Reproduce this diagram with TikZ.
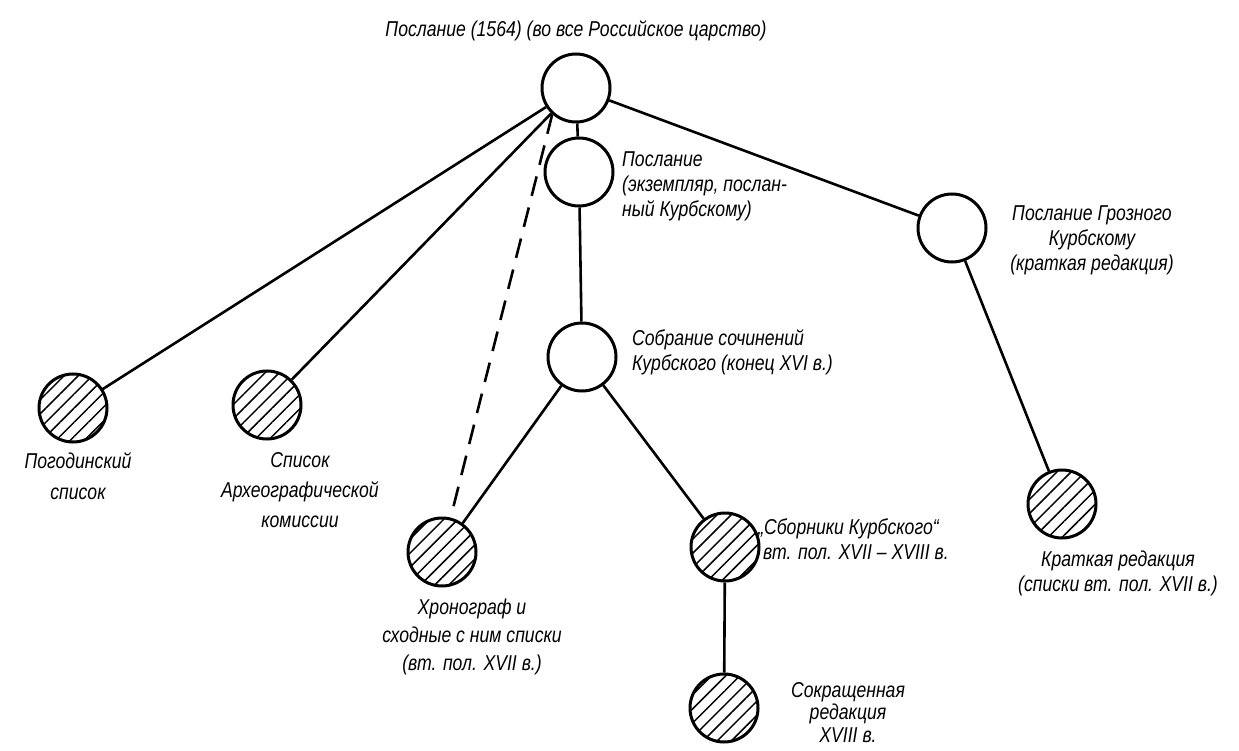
\documentclass[tikz,border=0pt]{standalone}
\usepackage{fontspec}
\setmainfont{Liberation Sans}[FakeStretch=0.82]
\usetikzlibrary{patterns.meta}
\newcommand{\labfont}{\itshape\fontsize{21.5}{25}\selectfont}
\tikzset{
  circ/.style={circle, draw, line width=3pt, minimum size=68pt, inner sep=0pt, fill=white},
  hatch/.style={circ, pattern={Lines[angle=45,distance=10pt,line width=1.5pt]}},
  lab/.style={font=\labfont, inner sep=0pt},
  conn/.style={line width=2.6pt},
  dconn/.style={line width=2.6pt, dash pattern=on 20pt off 12pt}
}
\begin{document}
\begin{tikzpicture}[x=1pt,y=-1pt]
\useasboundingbox (0,0) rectangle (1239,751);
% circles
\node[circ]  (T)  at (576,88)  {};
\node[circ]  (P2) at (579,172) {};
\node[circ]  (G)  at (952,228) {};
\node[circ]  (S)  at (582,357) {};
\node[hatch] (PG) at (73,408)  {};
\node[hatch] (AK) at (267,405) {};
\node[hatch] (HR) at (442,552) {};
\node[hatch] (SB) at (725,547) {};
\node[hatch] (SK) at (724,708) {};
\node[hatch] (KR) at (1062,504) {};
% connectors
\draw[conn] (T) -- (PG);
\draw[conn] (T) -- (AK);
\draw[dconn] (T.228) -- (HR);
\draw[conn] (T) -- (P2);
\draw[conn] (T) -- (G);
\draw[conn] (P2) -- (S);
\draw[conn] (S) -- (HR);
\draw[conn] (S) -- (SB);
\draw[conn] (SB) -- (SK);
\draw[conn] (G) -- (KR);
% labels
\node[lab, anchor=base] (lT) at (576,37) {Послание (1564) (во все Российское царство)};
\node[lab, anchor=north west, align=left] (lP2) at (622,152) {Послание\\(экземпляр, послан-\\ный Курбскому)};
\node[lab, anchor=north, align=center] (lG) at (1092,205) {Послание Грозного\\Курбскому\\(краткая редакция)};
\node[lab, anchor=north west, align=left] (lS) at (632,329) {Собрание сочинений\\Курбского (конец XVI в.)};
\node[lab, anchor=north, align=center, font=\itshape\fontsize{21.5}{31}\selectfont] (lPG) at (78,452) {Погодинский\\список};
\node[lab, anchor=north, align=center, font=\itshape\fontsize{21.5}{30}\selectfont] (lAK) at (300,452) {Список\\Археографической\\комиссии};
\node[lab, anchor=north, align=center, font=\itshape\fontsize{21.5}{28}\selectfont] (lHR) at (472,599) {Хронограф и\\сходные с ним списки\\(вт. пол. XVII в.)};
\node[lab, anchor=north west, align=left] (lSB) at (758,519) {„Сборники Курбского“\\\hspace{5pt}вт. пол. XVII -- XVIII в.};
\node[lab, anchor=north, align=center, font=\itshape\fontsize{21.5}{22.5}\selectfont] (lSK) at (848,682) {Сокращенная\\редакция\\XVIII в.};
\node[lab, anchor=north, align=center] (lKR) at (1118,551) {Краткая редакция\\(списки вт. пол. XVII в.)};
\end{tikzpicture}
\end{document}
